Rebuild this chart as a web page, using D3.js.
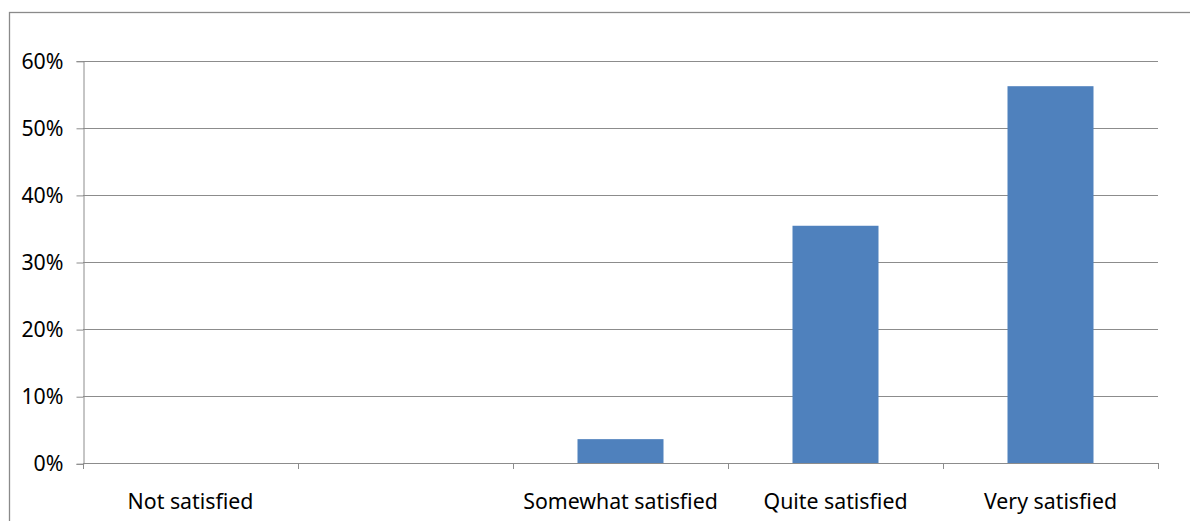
<!DOCTYPE html>
<html>
<head>
<meta charset="utf-8">
<script src="https://cdn.jsdelivr.net/npm/d3@7"></script>
<style>
  html, body { margin: 0; padding: 0; background: #fff; }
  svg { display: block; }
  text { font-family: "Noto Sans", "Open Sans", sans-serif; fill: #000; }
</style>
</head>
<body>
<svg id="chart" width="1190" height="521"></svg>
<script>
// Satisfaction survey: share of respondents per answer
const categories = ["Not satisfied", "", "Somewhat satisfied", "Quite satisfied", "Very satisfied"];
const shares = [0, 0, 0.036, 0.354, 0.562];
const yTicks = [0, 0.1, 0.2, 0.3, 0.4, 0.5, 0.6];

const svg = d3.select("#chart");
const W = 1190, H = 521;
const plot = { left: 83, right: 1158, top: 60.7, bottom: 463.3 };
const fontSize = 21.3;

// outer chart frame (extends beyond the visible window on right/bottom)
svg.append("rect")
  .attr("x", 9.5).attr("y", 12.5)
  .attr("width", W + 20).attr("height", H + 20)
  .attr("fill", "none").attr("stroke", "#8a8a8a").attr("stroke-width", 1.3);

const x = d3.scaleBand()
  .domain(categories.map((c, i) => i))
  .range([plot.left, plot.right])
  .paddingInner(0.6)
  .paddingOuter(0.3);

const y = d3.scaleLinear().domain([0, 0.6]).range([plot.bottom, plot.top]);

// horizontal gridlines
svg.append("g")
  .selectAll("line")
  .data(yTicks.filter(t => t > 0))
  .join("line")
  .attr("x1", plot.left).attr("x2", plot.right)
  .attr("y1", d => Math.round(y(d)) + 0.5).attr("y2", d => Math.round(y(d)) + 0.5)
  .attr("stroke", "#8c8c8c").attr("stroke-width", 1);

// bars
svg.append("g")
  .selectAll("rect")
  .data(shares)
  .join("rect")
  .attr("x", (d, i) => x(i))
  .attr("width", x.bandwidth())
  .attr("y", d => y(d))
  .attr("height", d => y(0) - y(d))
  .attr("fill", "#4f81bd");

// y axis
const yAxis = d3.axisLeft(y)
  .tickValues(yTicks)
  .tickFormat(d3.format(".0%"))
  .tickSize(7)
  .tickPadding(13);
const gy = svg.append("g")
  .attr("transform", `translate(${plot.left + 0.5},0.5)`)
  .call(yAxis);
gy.select(".domain").attr("stroke", "#8c8c8c");
gy.selectAll(".tick line").attr("stroke", "#8c8c8c");
gy.selectAll(".tick text")
  .attr("font-size", fontSize)
  .style("font-family", "'Noto Sans', sans-serif")
  .attr("fill", "#000");

// x axis: baseline with category boundary ticks
const step = x.step();
const bounds = d3.range(categories.length + 1).map(i => plot.left + i * step);
const gx = svg.append("g");
gx.append("line")
  .attr("x1", plot.left).attr("x2", plot.right)
  .attr("y1", Math.round(y(0)) + 0.5).attr("y2", Math.round(y(0)) + 0.5)
  .attr("stroke", "#8c8c8c");
gx.selectAll("line.b")
  .data(bounds)
  .join("line")
  .attr("class", "b")
  .attr("x1", d => Math.round(d) + 0.5).attr("x2", d => Math.round(d) + 0.5)
  .attr("y1", Math.round(y(0))).attr("y2", Math.round(y(0)) + 6)
  .attr("stroke", "#8c8c8c");
gx.selectAll("text")
  .data(categories)
  .join("text")
  .attr("x", (d, i) => x(i) + x.bandwidth() / 2)
  .attr("y", 509)
  .attr("text-anchor", "middle")
  .attr("font-size", fontSize)
  .text(d => d);
</script>
</body>
</html>
